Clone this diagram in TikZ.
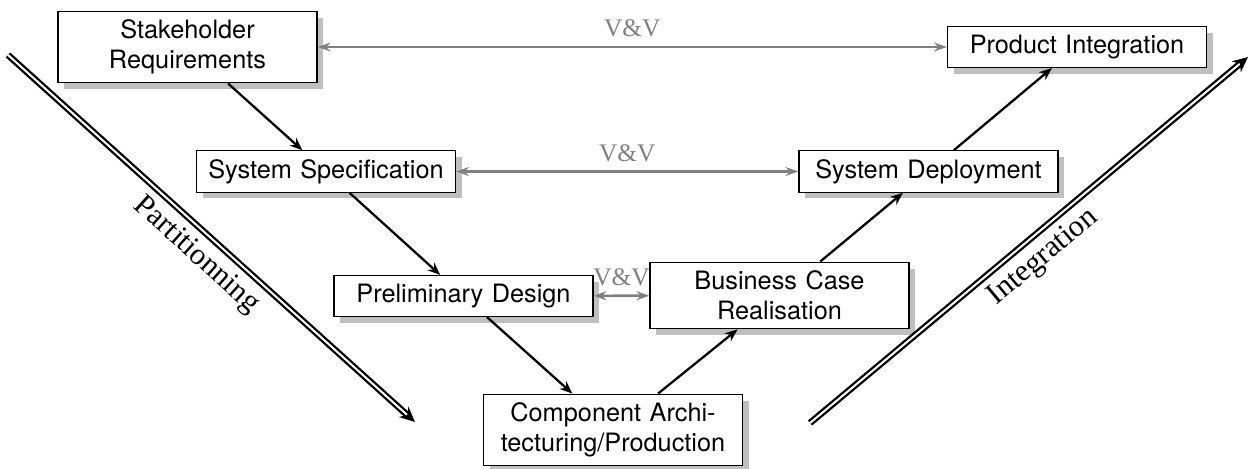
\documentclass[tikz,border=0pt]{standalone}
\usepackage{fontspec}
\setmainfont{TeX Gyre Heros}
\newfontfamily\seriflabel{Liberation Serif}
\usetikzlibrary{arrows.meta,shadows}
\begin{document}
\begin{tikzpicture}[x=0.3953pt,y=-0.3953pt,
  box/.style={draw, line width=0.5pt, fill=white, text width=95.8pt, align=center,
    drop shadow={fill=black!25, opacity=1, shadow xshift=2.5pt, shadow yshift=-2.5pt}},
  flow/.style={-{Stealth[length=5pt,width=4pt]}, line width=0.9pt},
  vv/.style={{Stealth[length=5pt,width=3.5pt]}-{Stealth[length=5pt,width=3.5pt]}, draw=gray, line width=1pt},
  vvlabel/.style={text=gray, font=\seriflabel, above},
  phase/.style={double, line width=0.9pt, double distance=0.8pt, -{Stealth[length=6pt,width=5.5pt]}},
  phaselabel/.style={font=\seriflabel\large, sloped, below, pos=0.5}]
\useasboundingbox (0,0) rectangle (1249,469);
% boxes
\node[box] (sr) at (187.5,47) {Stakeholder Requirements};
\node[box] (ss) at (326,171.5) {System Specification};
\node[box] (pd) at (463.5,296) {Preliminary Design};
\node[box] (ca) at (613,430) {Component Archi-\\tecturing/Production};
\node[box] (bc) at (779.5,295.5) {Business Case Realisation};
\node[box] (sd) at (928.5,171.5) {System Deployment};
\node[box] (pi) at (1077,47) {Product Integration};
% flow
\draw[flow] (sr) -- (ss);
\draw[flow] (ss) -- (pd);
\draw[flow] (pd) -- (ca);
\draw[flow] (ca) -- (bc);
\draw[flow] (bc) -- (sd);
\draw[flow] (sd) -- (pi);
% V&V
\draw[vv] (sr) -- node[vvlabel] {V\&V} (pi);
\draw[vv] (ss) -- node[vvlabel] {V\&V} (sd);
\draw[vv] (pd) -- node[vvlabel] {V\&V} (bc);
% phases
\coordinate (pa) at (8,55);
\coordinate (pb) at (415,422);
\coordinate (ia) at (810,423);
\coordinate (ib) at (1248,57);
\draw[phase] (pa) -- node[phaselabel] {Partitionning} (pb);
\draw[phase] (ia) -- node[phaselabel] {Integration} (ib);
\end{tikzpicture}
\end{document}
